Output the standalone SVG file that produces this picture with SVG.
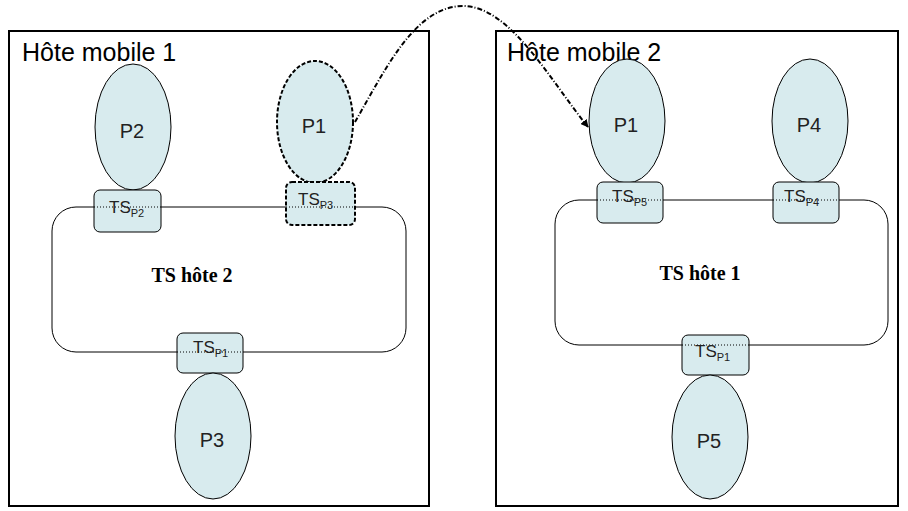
<svg xmlns="http://www.w3.org/2000/svg" width="908" height="511" viewBox="0 0 908 511">
<style>
.frame{fill:none;stroke:#000;stroke-width:2}
.ring{fill:none;stroke:#000;stroke-width:1}
.proc{fill:#d8ebee;stroke:#000;stroke-width:1}
.procd{fill:#d8ebee;stroke:#000;stroke-width:2;stroke-dasharray:4,2}
.ts{fill:#d8ebee;stroke:#000;stroke-width:1}
.tsd{fill:#d8ebee;stroke:#000;stroke-width:2;stroke-dasharray:4,2}
.dot{stroke:#000;stroke-width:1;stroke-dasharray:1,2}
.lbl{font-family:"Liberation Sans",Arial,sans-serif;font-size:20px;fill:#222;text-anchor:middle}
.tsl{font-family:"Liberation Sans",Arial,sans-serif;font-size:17px;fill:#222}
.sub{font-size:11px}
.title{font-family:"Liberation Sans",Arial,sans-serif;font-size:25px;fill:#000}
.ring-t{font-family:"Liberation Serif","Times New Roman",serif;font-size:20px;font-weight:bold;fill:#000;text-anchor:middle}
</style>
<defs>
<marker id="ah" viewBox="0 0 10 10" refX="9" refY="5" markerWidth="8" markerHeight="8" orient="auto" markerUnits="userSpaceOnUse"><path d="M0,0 L10,5 L0,10 z" fill="#000"/></marker>
</defs>

<g id="host1">
<rect class="frame" x="9" y="31" width="420" height="475"/>
<text class="title" x="22" y="61">Hôte mobile 1</text>
</g>
<g id="host2">
<rect class="frame" x="496" y="31" width="402" height="475"/>
<text class="title" x="507" y="61">Hôte mobile 2</text>
</g>

<g id="ring2">
<rect class="ring" x="52" y="207" width="354" height="145" rx="24" ry="24"/>
<text class="ring-t" x="192" y="282">TS hôte 2</text>
</g>
<g id="ring1">
<rect class="ring" x="555" y="200" width="333" height="145" rx="24" ry="24"/>
<text class="ring-t" x="700" y="280">TS hôte 1</text>
</g>

<g id="L-P2">
<ellipse class="proc" cx="133" cy="127" rx="38" ry="63"/>
<text class="lbl" x="132" y="138">P2</text>
</g>
<g id="L-TSP2">
<rect class="ts" x="94" y="190" width="67" height="42" rx="6"/>
<line class="dot" x1="94" y1="207" x2="161" y2="207"/>
<text class="tsl" x="109" y="213">TS<tspan class="sub" dy="4">P2</tspan></text>
</g>

<g id="L-P1">
<ellipse class="procd" cx="315" cy="122" rx="38" ry="61"/>
<text class="lbl" x="314" y="133">P1</text>
</g>
<g id="L-TSP3">
<rect class="tsd" x="286" y="182" width="69" height="43" rx="6"/>
<line class="dot" x1="286" y1="207" x2="355" y2="207"/>
<text class="tsl" x="298" y="205">TS<tspan class="sub" dy="4">P3</tspan></text>
</g>

<g id="L-TSP1">
<rect class="ts" x="177" y="333" width="66" height="40" rx="6"/>
<line class="dot" x1="177" y1="352" x2="243" y2="352"/>
<text class="tsl" x="193" y="353">TS<tspan class="sub" dy="4">P1</tspan></text>
</g>
<g id="L-P3">
<ellipse class="proc" cx="213" cy="436" rx="38" ry="63"/>
<text class="lbl" x="212" y="447">P3</text>
</g>

<g id="R-P1">
<ellipse class="proc" cx="627" cy="121" rx="38" ry="62"/>
<text class="lbl" x="626" y="132">P1</text>
</g>
<g id="R-TSP5">
<rect class="ts" x="597" y="182" width="66" height="41" rx="6"/>
<line class="dot" x1="597" y1="200" x2="663" y2="200"/>
<text class="tsl" x="612" y="202">TS<tspan class="sub" dy="4">P5</tspan></text>
</g>

<g id="R-P4">
<ellipse class="proc" cx="810" cy="121" rx="38" ry="62"/>
<text class="lbl" x="809" y="132">P4</text>
</g>
<g id="R-TSP4">
<rect class="ts" x="773" y="182" width="66" height="41" rx="6"/>
<line class="dot" x1="773" y1="200" x2="839" y2="200"/>
<text class="tsl" x="784" y="202">TS<tspan class="sub" dy="4">P4</tspan></text>
</g>

<g id="R-TSP1">
<rect class="ts" x="682" y="335" width="67" height="40" rx="6"/>
<line class="dot" x1="682" y1="345" x2="749" y2="345"/>
<text class="tsl" x="695" y="357">TS<tspan class="sub" dy="4">P1</tspan></text>
</g>
<g id="R-P5">
<ellipse class="proc" cx="710" cy="437" rx="38" ry="62"/>
<text class="lbl" x="709" y="448">P5</text>
</g>

<g id="connectors">
<path d="M355,122 C385,70 415,6 463,6 C510,6 550,80 588,127" fill="none" stroke="#000" stroke-width="2" stroke-dasharray="5,2,1,2" marker-end="url(#ah)"/>
</g>
</svg>
